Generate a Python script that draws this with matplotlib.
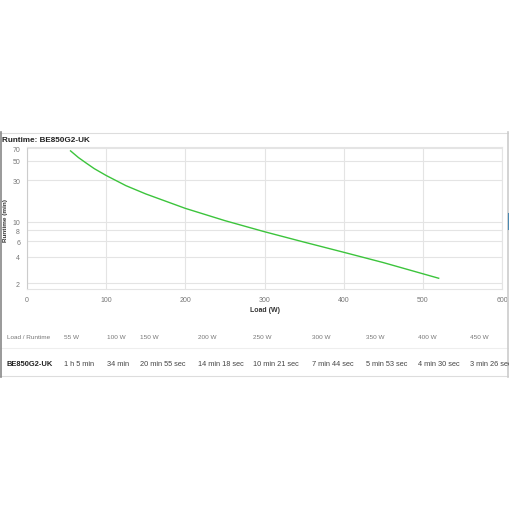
import numpy as np
import matplotlib
matplotlib.use("Agg")
import matplotlib.pyplot as plt
from matplotlib.lines import Line2D

plt.rcParams['font.family'] = ['Liberation Sans', 'DejaVu Sans']

# runtime curve (W, minutes)
load_w = [55, 65, 75, 85, 100, 125, 150, 200, 250, 300, 350, 400, 450, 520]
runtime_min = [65.0, 54.5, 47.0, 40.7, 34.0, 26.0, 20.92, 14.3, 10.35, 7.73, 5.88, 4.5, 3.43, 2.27]

# table below the chart
table_loads = ["55 W", "100 W", "150 W", "200 W", "250 W", "300 W", "350 W", "400 W", "450 W"]
table_runtimes = ["1 h 5 min", "34 min", "20 min 55 sec", "14 min 18 sec", "10 min 21 sec",
                  "7 min 44 sec", "5 min 53 sec", "4 min 30 sec", "3 min 26 sec"]
model = "BE850G2-UK"
y_ticks = [2, 4, 6, 8, 10, 30, 50, 70]
x_ticks = [0, 100, 200, 300, 400, 500, 600]

W = H = 510
fig = plt.figure(figsize=(W / 100, H / 100), dpi=100)
fig.patch.set_facecolor("white")

def px(x, y):
    # pixel coords (top-left origin) -> figure fraction
    return x / W, 1 - y / H

# plot area
x0, x1, y0, y1 = 27, 502, 148, 290
ax = fig.add_axes([x0 / W, 1 - y1 / H, (x1 - x0) / W, (y1 - y0) / H])
ax.plot(load_w, runtime_min, color="#3cc43c", lw=1.0)
ax.set_yscale("log")
ax.set_xlim(0, 600)
ax.set_ylim(1.71, 72)
ax.set_yticks(y_ticks)
ax.set_yticklabels([str(t) for t in y_ticks])
ax.yaxis.set_minor_locator(matplotlib.ticker.NullLocator())
ax.set_xticks(x_ticks)
ax.tick_params(length=0, labelsize=5, labelcolor="#777777", pad=5)
ax.grid(True, color="#e4e4e4", lw=0.8)
for s in ax.spines.values():
    s.set_color("#e4e4e4")
    s.set_linewidth(0.8)
ax.spines["left"].set_color("#cccccc")

fig.text(*px(2, 140), "Runtime: " + model, fontsize=5.9, fontweight="bold",
         color="#222222", va="center", ha="left")
fig.text(*px(6, 220), "Runtime (min)", fontsize=4.6, fontweight="bold",
         color="#333333", rotation=90, va="center", ha="center")
fig.text(*px(265, 311), "Load (W)", fontsize=5.0, fontweight="bold",
         color="#333333", va="center", ha="center")

# table
col_x = [64, 107, 140, 198, 253, 312, 366, 418, 470]
fig.text(*px(7, 338), "Load / Runtime", fontsize=4.6, color="#777777", va="center")
fig.text(*px(7, 364), model, fontsize=5.4, fontweight="bold", color="#222222", va="center")
for cx, lab, rt in zip(col_x, table_loads, table_runtimes):
    fig.text(*px(cx, 338), lab, fontsize=4.6, color="#777777", va="center")
    fig.text(*px(cx, 364), rt, fontsize=5.3, color="#444444", va="center")

# frame lines of the screenshot
def hline(y, xa, xb, c, lw):
    fig.add_artist(Line2D([xa / W, xb / W], [1 - y / H] * 2, color=c, lw=lw))

def vline(x, ya, yb, c, lw):
    fig.add_artist(Line2D([x / W] * 2, [1 - ya / H, 1 - yb / H], color=c, lw=lw))

hline(134, 0, 508, "#dddddd", 0.8)
hline(349, 0, 508, "#eeeeee", 0.8)
hline(377, 0, 508, "#dddddd", 0.8)
vline(1.5, 133, 378, "#888888", 1.2)
vline(508, 133, 378, "#cccccc", 1.2)
vline(509, 215, 230, "#4a88b0", 1.5)

fig.savefig("out.png", dpi=100, facecolor="white")
